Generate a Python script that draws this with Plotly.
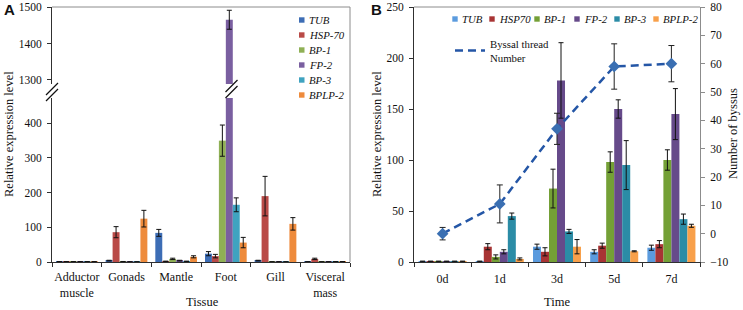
import plotly.graph_objects as go

# ---------------- data ----------------
tissues = ["Adductor<br>muscle", "Gonads", "Mantle", "Foot", "Gill", "Visceral<br>mass"]
genes_a = ["TUB", "HSP-70", "BP-1", "FP-2", "BP-3", "BPLP-2"]
tub_a = [0.8, 4, 84, 24, 4, 0.5]
hsp_a = [0.8, 86, 2, 17, 190, 9]
bp1_a = [0.8, 1, 9, 350, 0.5, 0.5]
fp2_a = [0.8, 0.5, 4, 1465, 0.5, 0.5]
bp3_a = [0.8, 0.5, 2, 165, 0.5, 1]
bplp_a = [0.8, 125, 15, 56, 110, 1]
tub_a_err = [0.3, 1, 10, 6, 1, 0.2]
hsp_a_err = [0.3, 16, 0.5, 5, 57, 2]
bp1_a_err = [0.3, 0.5, 2, 45, 0.2, 0.2]
fp2_a_err = [0.3, 0.2, 1, 26, 0.2, 0.2]
bp3_a_err = [0.3, 0.2, 0.5, 20, 0.2, 0.3]
bplp_a_err = [0.3, 24, 3, 15, 18, 0.3]

times = ["0d", "1d", "3d", "5d", "7d"]
genes_b = ["TUB", "HSP70", "BP-1", "FP-2", "BP-3", "BPLP-2"]
tub_b = [0.6, 0.6, 15, 10, 14]
hsp_b = [0.6, 15, 10, 16, 17.5]
bp1_b = [0.6, 5, 72, 98, 100]
fp2_b = [0.6, 10, 178, 150, 145]
bp3_b = [0.6, 45, 30, 95, 42]
bplp_b = [0.6, 3, 15, 10.5, 35.5]
tub_b_err = [0.3, 0.3, 2.5, 2, 2.5]
hsp_b_err = [0.3, 3, 4, 2.5, 3.5]
bp1_b_err = [0.3, 2, 19, 10, 10]
fp2_b_err = [0.3, 2, 37, 9, 25]
bp3_b_err = [0.3, 3, 2, 24, 5]
bplp_b_err = [0.3, 1, 7, 0.5, 1.5]
byssus = [0, 10.5, 37, 59, 60]
byssus_err = [2.2, 6.7, 5.5, 8, 6.4]

yticks_a_low = [0, 100, 200, 300, 400]
yticks_a_up = [1300, 1400, 1500]

# ---------------- style ----------------
W, H = 743, 310
def px(x):
    return x / W
def py(y):
    return 1 - y / H

SERIF = "Liberation Serif, Times New Roman, serif"
SANS = "Liberation Sans, Arial, sans-serif"
cols_a = ["#3D6DB5", "#B94A47", "#8FB055", "#7A5FA0", "#3FA3C0", "#EE8B3C"]
cols_b = ["#5B9BDE", "#A83434", "#74A036", "#664A8A", "#2B8CA6", "#F8A04A"]
AX = "#303030"
GR = "#8C8C8C"
TXT = "#111111"

vals_a = [tub_a, hsp_a, bp1_a, fp2_a, bp3_a, bplp_a]
errs_a = [tub_a_err, hsp_a_err, bp1_a_err, fp2_a_err, bp3_a_err, bplp_a_err]
vals_b = [tub_b, hsp_b, bp1_b, fp2_b, bp3_b, bplp_b]
errs_b = [tub_b_err, hsp_b_err, bp1_b_err, fp2_b_err, bp3_b_err, bplp_b_err]

fig = go.Figure()

eb = dict(type="data", color="#111111", thickness=1, width=2.5)

# Panel A lower and upper (broken axis)
for yax in ["y", "y2"]:
    for name, v, e, c in zip(genes_a, vals_a, errs_a, cols_a):
        fig.add_trace(go.Bar(x=tissues, y=v, name=name, xaxis="x", yaxis=yax,
                             marker=dict(color=c, line=dict(width=0)),
                             error_y=dict(array=e, **eb), showlegend=False))

# Panel B bars
for name, v, e, c in zip(genes_b, vals_b, errs_b, cols_b):
    fig.add_trace(go.Bar(x=times, y=v, name=name, xaxis="x2", yaxis="y3",
                         marker=dict(color=c, line=dict(width=0)),
                         error_y=dict(array=e, **eb), showlegend=False))

# Panel B byssus line (dashed line shown in legend) + markers with error bars
fig.add_trace(go.Scatter(x=times, y=byssus, name="Byssal thread<br>Number",
                         xaxis="x2", yaxis="y4", mode="lines",
                         line=dict(color="#2456A6", width=2.5, dash="8px,5px"),
                         showlegend=True))
fig.add_trace(go.Scatter(x=times, y=byssus, name="Byssal thread Number",
                         xaxis="x2", yaxis="y4", mode="markers",
                         marker=dict(symbol="diamond", size=9, color="#3A6FB2"),
                         error_y=dict(array=byssus_err, type="data", color="#222222", thickness=1, width=3),
                         showlegend=False))

tickfont = dict(family=SERIF, size=11.5, color=TXT)
catfont = dict(family=SERIF, size=12, color=TXT)
titlefont = dict(family=SERIF, size=12.5, color=TXT)
legfont = dict(family=SERIF, size=10.8, color=TXT)

common_y = dict(showline=True, linecolor=AX, linewidth=1, ticks="outside", ticklen=4,
                tickcolor=AX, tickfont=tickfont, ticklabelstandoff=3,
                showgrid=False, zeroline=False, automargin=False)
common_x = dict(type="category", showline=True, linecolor=AX, linewidth=1,
                ticks="outside", ticklen=4, tickcolor=AX, tickson="boundaries",
                tickfont=catfont, tickangle=0,
                automargin=False, showgrid=False, zeroline=False)

fig.update_layout(
    width=W, height=H,
    margin=dict(l=0, r=0, t=0, b=0, autoexpand=False),
    paper_bgcolor="white", plot_bgcolor="rgba(0,0,0,0)",
    barmode="group",
    bargap=0.16, bargroupgap=0.0,
    font=dict(family=SERIF, color=TXT),
    xaxis=dict(domain=[px(52), px(350)], anchor="y", ticklabelstandoff=4, **common_x),
    yaxis=dict(domain=[py(262), py(98)], range=[0, 473], anchor="x",
               tickvals=yticks_a_low, **common_y),
    yaxis2=dict(domain=[py(84), py(7)], range=[1289, 1500], anchor="x",
                tickvals=yticks_a_up, **common_y),
    xaxis2=dict(domain=[px(414), px(700)], anchor="y3", ticklabelstandoff=6, **common_x),
    yaxis3=dict(domain=[py(262), py(7)], range=[0, 250], anchor="x2", dtick=50, **common_y),
    yaxis4=dict(domain=[py(262), py(7)], range=[-10, 80], anchor="x2", overlaying="y3",
                side="right", dtick=10,
                showline=True, linecolor=GR, linewidth=1,
                ticks="outside", ticklen=4, tickcolor=GR, tickfont=tickfont,
                ticklabelstandoff=3,
                showgrid=False, zeroline=False, automargin=False),
    legend=dict(x=px(450), y=py(30), xanchor="left", yanchor="top",
                bgcolor="rgba(0,0,0,0)", font=legfont,
                valign="middle", tracegroupgap=0, itemwidth=30),
)

shapes = []
# Panel A frame (top and right border)
shapes.append(dict(type="line", xref="paper", yref="paper", x0=px(52), x1=px(350), y0=py(7), y1=py(7),
                   line=dict(color=GR, width=1)))
shapes.append(dict(type="line", xref="paper", yref="paper", x0=px(350), x1=px(350), y0=py(7), y1=py(262),
                   line=dict(color=GR, width=1)))
# Panel B top border
shapes.append(dict(type="line", xref="paper", yref="paper", x0=px(414), x1=px(700), y0=py(7), y1=py(7),
                   line=dict(color=GR, width=1)))
# axis break marks
for (bx, by) in [(52, 92), (231.5, 89)]:
    for d in (-3, 3):
        shapes.append(dict(type="line", xref="paper", yref="paper",
                           x0=px(bx - 6), y0=py(by + d + 6), x1=px(bx + 6), y1=py(by + d - 6),
                           line=dict(color="#111111", width=1.2)))

ann = []
# axis titles
ann.append(dict(text="Relative expression level", x=px(9), y=py(134), xref="paper", yref="paper",
                textangle=-90, showarrow=False, font=titlefont, xanchor="center", yanchor="middle"))
ann.append(dict(text="Relative expression level", x=px(377), y=py(134), xref="paper", yref="paper",
                textangle=-90, showarrow=False, font=titlefont, xanchor="center", yanchor="middle"))
ann.append(dict(text="Number of byssus", x=px(733), y=py(134), xref="paper", yref="paper",
                textangle=-90, showarrow=False, font=titlefont, xanchor="center", yanchor="middle"))
ann.append(dict(text="Tissue", x=px(203), y=py(302), xref="paper", yref="paper",
                showarrow=False, font=titlefont, xanchor="center", yanchor="middle"))
ann.append(dict(text="Time", x=px(557), y=py(302), xref="paper", yref="paper",
                showarrow=False, font=titlefont, xanchor="center", yanchor="middle"))
# panel letters
ann.append(dict(text="<b>A</b>", x=px(2), y=py(10), xref="paper", yref="paper", showarrow=False,
                font=dict(family=SANS, size=15, color=TXT), xanchor="left", yanchor="middle"))
ann.append(dict(text="<b>B</b>", x=px(369), y=py(10), xref="paper", yref="paper", showarrow=False,
                font=dict(family=SANS, size=15, color=TXT), xanchor="left", yanchor="middle"))

# Legend A (vertical)
leg_a_y = [20, 35, 50, 65, 80, 95]
for name, c, yy in zip(genes_a, cols_a, leg_a_y):
    shapes.append(dict(type="rect", xref="paper", yref="paper", x0=px(299), x1=px(304.5),
                       y0=py(yy + 2.7), y1=py(yy - 2.7), line=dict(width=0), fillcolor=c))
    ann.append(dict(text="<i>" + name + "</i>", x=px(306.5), y=py(yy), xref="paper", yref="paper",
                    showarrow=False, xanchor="left", yanchor="middle", font=legfont))
# Legend B (horizontal)
leg_b_sq = [455, 492, 537, 577, 617, 656]
for name, c, xx in zip(genes_b, cols_b, leg_b_sq):
    shapes.append(dict(type="rect", xref="paper", yref="paper", x0=px(xx - 2.7), x1=px(xx + 2.7),
                       y0=py(19 + 2.7), y1=py(19 - 2.7), line=dict(width=0), fillcolor=c))
    ann.append(dict(text="<i>" + name + "</i>", x=px(xx + 4.5), y=py(19), xref="paper", yref="paper",
                    showarrow=False, xanchor="left", yanchor="middle", font=legfont))

fig.update_layout(shapes=shapes, annotations=ann)
fig.write_html("out.html", config={"displayModeBar": False},
               post_script="document.body.style.margin='0';document.body.style.overflow='hidden';")
